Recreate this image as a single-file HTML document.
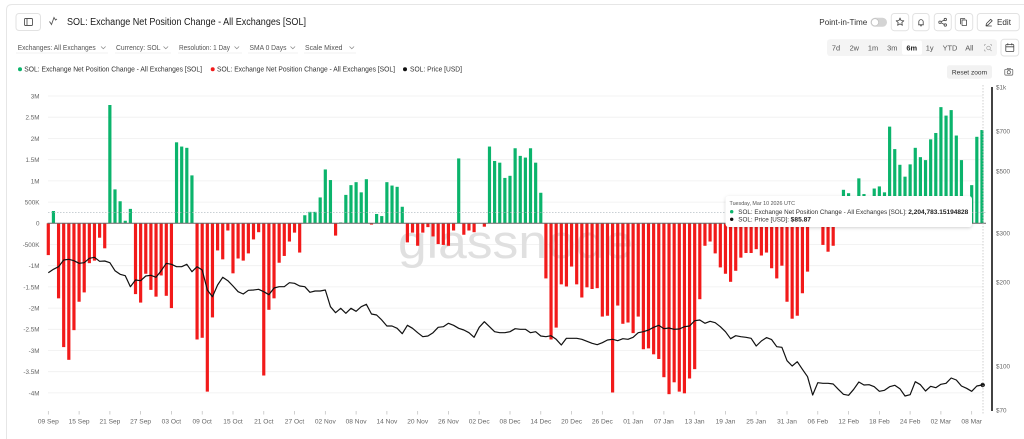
<!DOCTYPE html>
<html><head><meta charset="utf-8"><style>
html,body{margin:0;padding:0;background:#fff;}
svg{display:block;font-family:"Liberation Sans",Arial,sans-serif;}
</style></head><body>
<svg width="1024" height="439" viewBox="0 0 1024 439" xmlns="http://www.w3.org/2000/svg">
<defs>
<filter id="sh" x="-10%" y="-40%" width="120%" height="180%"><feDropShadow dx="0" dy="1" stdDeviation="1.5" flood-color="#000" flood-opacity="0.18"/></filter>
</defs>
<rect width="1024" height="439" fill="#fff"/>
<!-- card border -->
<path d="M6.5,439 V10 Q6.5,4.5 12,4.5 H1024" fill="none" stroke="#e6e6e6" stroke-width="1"/>

<!-- header left -->
<rect x="16" y="13.5" width="24.5" height="17" rx="3" fill="#fff" stroke="#e2e2e2"/>
<rect x="24.5" y="18.5" width="8" height="7" rx="1" fill="none" stroke="#555" stroke-width="0.9"/>
<line x1="27" y1="18.5" x2="27" y2="25.5" stroke="#555" stroke-width="0.9"/>
<polyline points="49.5,21.5 51.5,24.5 54,17.5 55.5,20 57,19" fill="none" stroke="#555" stroke-width="0.9"/>
<text x="67" y="25" font-size="10" fill="#1a1a1a" textLength="239" lengthAdjust="spacingAndGlyphs">SOL: Exchange Net Position Change - All Exchanges [SOL]</text>

<!-- filters -->
<g font-size="7.2" fill="#555">
<text x="17.7" y="50" textLength="78" lengthAdjust="spacingAndGlyphs">Exchanges: All Exchanges</text>
<text x="116" y="50" textLength="44.5" lengthAdjust="spacingAndGlyphs">Currency: SOL</text>
<text x="179" y="50" textLength="51" lengthAdjust="spacingAndGlyphs">Resolution: 1 Day</text>
<text x="249.5" y="50" textLength="37" lengthAdjust="spacingAndGlyphs">SMA 0 Days</text>
<text x="305" y="50" textLength="37.5" lengthAdjust="spacingAndGlyphs">Scale Mixed</text>
</g>
<g fill="none" stroke="#888" stroke-width="0.7">
<polyline points="101,46.5 103.3,48.8 105.6,46.5"/>
<polyline points="163.5,46.5 165.8,48.8 168.1,46.5"/>
<polyline points="234.5,46.5 236.8,48.8 239.1,46.5"/>
<polyline points="290.5,46.5 292.8,48.8 295.1,46.5"/>
<polyline points="349.5,46.5 351.8,48.8 354.1,46.5"/>
</g>
<g stroke="#ececec" stroke-width="0.8">
<line x1="16" y1="53" x2="108" y2="53"/>
<line x1="115" y1="53" x2="171" y2="53"/>
<line x1="178" y1="53" x2="242" y2="53"/>
<line x1="248" y1="53" x2="298" y2="53"/>
<line x1="304" y1="53" x2="356" y2="53"/>
</g>

<!-- legend -->
<circle cx="20" cy="69.3" r="2" fill="#0bb46c"/>
<circle cx="212.7" cy="69.3" r="2" fill="#f21a1a"/>
<circle cx="405" cy="69.3" r="2" fill="#111"/>
<g font-size="7" fill="#333">
<text x="24.3" y="71.7" textLength="177.7" lengthAdjust="spacingAndGlyphs">SOL: Exchange Net Position Change - All Exchanges [SOL]</text>
<text x="217" y="71.7" textLength="178" lengthAdjust="spacingAndGlyphs">SOL: Exchange Net Position Change - All Exchanges [SOL]</text>
<text x="410" y="71.7" textLength="52" lengthAdjust="spacingAndGlyphs">SOL: Price [USD]</text>
</g>

<!-- header right -->
<text x="819.3" y="25" font-size="8" fill="#333" textLength="48" lengthAdjust="spacingAndGlyphs">Point-in-Time</text>
<rect x="870.5" y="17.8" width="16.5" height="9" rx="4.5" fill="#d4d4d4"/>
<circle cx="875" cy="22.3" r="3.6" fill="#fff" stroke="#bbb" stroke-width="0.6"/>
<g fill="#fff" stroke="#e2e2e2">
<rect x="891.3" y="13.5" width="17.4" height="17.2" rx="3"/>
<rect x="912.7" y="13.5" width="16.4" height="17.2" rx="3"/>
<rect x="934.3" y="13.5" width="17" height="17.2" rx="3"/>
<rect x="955.3" y="13.5" width="17.4" height="17.2" rx="3"/>
<rect x="977.3" y="13.5" width="42" height="17.2" rx="3"/>
<rect x="1001" y="39.3" width="17.7" height="16.7" rx="3"/>
</g>
<g fill="none" stroke="#444" stroke-width="0.8" stroke-linejoin="round">
<polygon points="900,18 901.1,20.6 903.8,20.8 901.8,22.6 902.4,25.3 900,23.9 897.6,25.3 898.2,22.6 896.2,20.8 898.9,20.6"/>
<path d="M918.3,24.8 h5.4 M918.8,24.8 v-3 a2.2,2.2 0 0 1 4.4,0 v3 M920.2,25.8 h1.6"/>
<circle cx="940" cy="22.2" r="1.2"/><circle cx="945.3" cy="19.5" r="1.2"/><circle cx="945.3" cy="25" r="1.2"/>
<path d="M941.1,21.6 L944.2,20.1 M941.1,22.8 L944.2,24.4"/>
<rect x="962" y="20" width="4.6" height="5.6" rx="0.6"/>
<path d="M960.5,24.2 v-5.5 h4.6"/>
<path d="M986,25.5 l0.5,-2 l4.2,-4.2 l1.5,1.5 l-4.2,4.2 z M985.8,26 h6"/>
<rect x="1005.8" y="44.5" width="8" height="7" rx="0.8"/>
<path d="M1005.8,46.8 h8 M1007.8,43.3 v2 M1011.8,43.3 v2"/>
</g>
<text x="997" y="25.2" font-size="8" fill="#333" textLength="14" lengthAdjust="spacingAndGlyphs">Edit</text>

<!-- time range -->
<rect x="827" y="39.3" width="170" height="16.7" rx="3" fill="#f4f4f4"/>
<rect x="902" y="40.6" width="20" height="14.2" rx="2" fill="#fff"/>
<g font-size="7.4" fill="#555" text-anchor="middle">
<text x="836" y="50.5">7d</text>
<text x="854.3" y="50.5">2w</text>
<text x="873" y="50.5">1m</text>
<text x="892.3" y="50.5">3m</text>
<text x="911.7" y="50.5" font-weight="bold" fill="#222">6m</text>
<text x="929.7" y="50.5">1y</text>
<text x="950" y="50.5">YTD</text>
<text x="969.3" y="50.5">All</text>
</g>
<g fill="none" stroke="#999" stroke-width="0.6">
<path d="M984.5,44.5 h1.5 M984.5,44.5 v1.5 M991.5,44.5 h-1.5 M991.5,44.5 v1.5 M984.5,51 v-1.5 M984.5,51 h1.5"/>
<circle cx="988.5" cy="48" r="1.8"/><path d="M989.8,49.3 l1.8,1.8"/>
</g>

<!-- reset zoom -->
<rect x="947" y="65.3" width="45" height="13.4" rx="2.5" fill="#f2f2f2"/>
<text x="969.5" y="74.4" font-size="6.6" fill="#333" text-anchor="middle">Reset zoom</text>
<g fill="none" stroke="#555" stroke-width="0.7">
<rect x="1004.8" y="69.3" width="8" height="5.8" rx="0.8"/>
<circle cx="1008.8" cy="72.2" r="1.6"/>
<path d="M1006.8,69.3 l0.7,-1 h2.6 l0.7,1"/>
</g>

<!-- grid -->
<g stroke="#efefef" stroke-width="0.8">
<line x1="48" y1="96" x2="983" y2="96"/>
<line x1="48" y1="117.2" x2="983" y2="117.2"/>
<line x1="48" y1="138.5" x2="983" y2="138.5"/>
<line x1="48" y1="159.7" x2="983" y2="159.7"/>
<line x1="48" y1="180.9" x2="983" y2="180.9"/>
<line x1="48" y1="202.1" x2="983" y2="202.1"/>
<line x1="48" y1="244.5" x2="983" y2="244.5"/>
<line x1="48" y1="265.7" x2="983" y2="265.7"/>
<line x1="48" y1="286.9" x2="983" y2="286.9"/>
<line x1="48" y1="308.1" x2="983" y2="308.1"/>
<line x1="48" y1="329.3" x2="983" y2="329.3"/>
<line x1="48" y1="350.5" x2="983" y2="350.5"/>
<line x1="48" y1="371.7" x2="983" y2="371.7"/>
<line x1="48" y1="392.9" x2="983" y2="392.9"/>
</g>

<!-- left axis labels -->
<g font-size="6.3" fill="#666" text-anchor="end">
<text x="39.5" y="98.4">3M</text>
<text x="39.5" y="119.6">2.5M</text>
<text x="39.5" y="140.9">2M</text>
<text x="39.5" y="162.1">1.5M</text>
<text x="39.5" y="183.3">1M</text>
<text x="39.5" y="204.5">500K</text>
<text x="39.5" y="225.7">0</text>
<text x="39.5" y="246.9">-500K</text>
<text x="39.5" y="268.1">-1M</text>
<text x="39.5" y="289.3">-1.5M</text>
<text x="39.5" y="310.5">-2M</text>
<text x="39.5" y="331.7">-2.5M</text>
<text x="39.5" y="352.9">-3M</text>
<text x="39.5" y="374.1">-3.5M</text>
<text x="39.5" y="395.3">-4M</text>
</g>

<!-- watermark -->
<text x="398" y="258" font-size="47" fill="#e0e0e0" textLength="235" lengthAdjust="spacingAndGlyphs">glassnode</text>

<!-- bars -->
<g transform="translate(48.3 223.3) scale(5.13 -42.4)">
<g fill="#0bb46c">
<rect x="0.69" y="0" width=".62" height="0.29"/>
<rect x="11.69" y="0" width=".62" height="2.79"/>
<rect x="12.69" y="0" width=".62" height="0.80"/>
<rect x="13.69" y="0" width=".62" height="0.52"/>
<rect x="14.69" y="0" width=".62" height="0.06"/>
<rect x="15.69" y="0" width=".62" height="0.34"/>
<rect x="24.69" y="0" width=".62" height="1.91"/>
<rect x="25.69" y="0" width=".62" height="1.81"/>
<rect x="26.69" y="0" width=".62" height="1.78"/>
<rect x="27.69" y="0" width=".62" height="1.13"/>
<rect x="49.69" y="0" width=".62" height="0.19"/>
<rect x="50.69" y="0" width=".62" height="0.27"/>
<rect x="51.69" y="0" width=".62" height="0.27"/>
<rect x="52.69" y="0" width=".62" height="0.61"/>
<rect x="53.69" y="0" width=".62" height="1.27"/>
<rect x="54.69" y="0" width=".62" height="1.02"/>
<rect x="56.69" y="0" width=".62" height="0.02"/>
<rect x="57.69" y="0" width=".62" height="0.67"/>
<rect x="58.69" y="0" width=".62" height="0.90"/>
<rect x="59.69" y="0" width=".62" height="0.97"/>
<rect x="60.69" y="0" width=".62" height="0.73"/>
<rect x="61.69" y="0" width=".62" height="1.04"/>
<rect x="63.69" y="0" width=".62" height="0.22"/>
<rect x="64.69" y="0" width=".62" height="0.17"/>
<rect x="65.69" y="0" width=".62" height="0.97"/>
<rect x="66.69" y="0" width=".62" height="0.89"/>
<rect x="67.69" y="0" width=".62" height="0.86"/>
<rect x="68.69" y="0" width=".62" height="0.39"/>
<rect x="79.69" y="0" width=".62" height="1.53"/>
<rect x="85.69" y="0" width=".62" height="1.81"/>
<rect x="86.69" y="0" width=".62" height="1.47"/>
<rect x="87.69" y="0" width=".62" height="1.43"/>
<rect x="88.69" y="0" width=".62" height="1.07"/>
<rect x="89.69" y="0" width=".62" height="1.12"/>
<rect x="90.69" y="0" width=".62" height="1.77"/>
<rect x="91.69" y="0" width=".62" height="1.59"/>
<rect x="92.69" y="0" width=".62" height="1.55"/>
<rect x="93.69" y="0" width=".62" height="1.77"/>
<rect x="94.69" y="0" width=".62" height="1.43"/>
<rect x="95.69" y="0" width=".62" height="0.72"/>
<rect x="149.69" y="0" width=".62" height="0.05"/>
<rect x="153.69" y="0" width=".62" height="0.30"/>
<rect x="154.69" y="0" width=".62" height="0.79"/>
<rect x="155.69" y="0" width=".62" height="0.71"/>
<rect x="156.69" y="0" width=".62" height="0.40"/>
<rect x="157.69" y="0" width=".62" height="1.06"/>
<rect x="158.69" y="0" width=".62" height="0.69"/>
<rect x="159.69" y="0" width=".62" height="0.45"/>
<rect x="160.69" y="0" width=".62" height="0.82"/>
<rect x="161.69" y="0" width=".62" height="0.87"/>
<rect x="162.69" y="0" width=".62" height="0.73"/>
<rect x="163.69" y="0" width=".62" height="2.28"/>
<rect x="164.69" y="0" width=".62" height="1.75"/>
<rect x="165.69" y="0" width=".62" height="1.38"/>
<rect x="166.69" y="0" width=".62" height="1.10"/>
<rect x="167.69" y="0" width=".62" height="1.39"/>
<rect x="168.69" y="0" width=".62" height="1.78"/>
<rect x="169.69" y="0" width=".62" height="1.56"/>
<rect x="170.69" y="0" width=".62" height="1.49"/>
<rect x="171.69" y="0" width=".62" height="1.98"/>
<rect x="172.69" y="0" width=".62" height="2.13"/>
<rect x="173.69" y="0" width=".62" height="2.74"/>
<rect x="174.69" y="0" width=".62" height="2.54"/>
<rect x="175.69" y="0" width=".62" height="2.67"/>
<rect x="176.69" y="0" width=".62" height="2.07"/>
<rect x="177.69" y="0" width=".62" height="1.49"/>
<rect x="178.69" y="0" width=".62" height="0.30"/>
<rect x="179.69" y="0" width=".62" height="0.90"/>
<rect x="180.69" y="0" width=".62" height="2.04"/>
<rect x="181.69" y="0" width=".62" height="2.20"/>
</g>
<g fill="#f21a1a">
<rect x="-0.31" y="-0.75" width=".62" height="0.75"/>
<rect x="1.69" y="-1.77" width=".62" height="1.77"/>
<rect x="2.69" y="-2.92" width=".62" height="2.92"/>
<rect x="3.69" y="-3.22" width=".62" height="3.22"/>
<rect x="4.69" y="-2.52" width=".62" height="2.52"/>
<rect x="5.69" y="-1.85" width=".62" height="1.85"/>
<rect x="6.69" y="-1.63" width=".62" height="1.63"/>
<rect x="7.69" y="-0.94" width=".62" height="0.94"/>
<rect x="8.69" y="-0.88" width=".62" height="0.88"/>
<rect x="9.69" y="-0.34" width=".62" height="0.34"/>
<rect x="10.69" y="-0.59" width=".62" height="0.59"/>
<rect x="16.69" y="-1.67" width=".62" height="1.67"/>
<rect x="17.69" y="-1.87" width=".62" height="1.87"/>
<rect x="18.69" y="-1.19" width=".62" height="1.19"/>
<rect x="19.69" y="-1.57" width=".62" height="1.57"/>
<rect x="20.69" y="-1.73" width=".62" height="1.73"/>
<rect x="21.69" y="-1.23" width=".62" height="1.23"/>
<rect x="22.69" y="-1.71" width=".62" height="1.71"/>
<rect x="23.69" y="-2.00" width=".62" height="2.00"/>
<rect x="28.69" y="-2.74" width=".62" height="2.74"/>
<rect x="29.69" y="-2.70" width=".62" height="2.70"/>
<rect x="30.69" y="-3.97" width=".62" height="3.97"/>
<rect x="31.69" y="-2.22" width=".62" height="2.22"/>
<rect x="32.69" y="-0.64" width=".62" height="0.64"/>
<rect x="33.69" y="-0.85" width=".62" height="0.85"/>
<rect x="34.69" y="-0.17" width=".62" height="0.17"/>
<rect x="35.69" y="-1.18" width=".62" height="1.18"/>
<rect x="36.69" y="-0.83" width=".62" height="0.83"/>
<rect x="37.69" y="-0.88" width=".62" height="0.88"/>
<rect x="38.69" y="-0.71" width=".62" height="0.71"/>
<rect x="39.69" y="-0.38" width=".62" height="0.38"/>
<rect x="40.69" y="-0.21" width=".62" height="0.21"/>
<rect x="41.69" y="-3.59" width=".62" height="3.59"/>
<rect x="42.69" y="-2.04" width=".62" height="2.04"/>
<rect x="43.69" y="-1.77" width=".62" height="1.77"/>
<rect x="44.69" y="-0.93" width=".62" height="0.93"/>
<rect x="45.69" y="-0.77" width=".62" height="0.77"/>
<rect x="46.69" y="-0.43" width=".62" height="0.43"/>
<rect x="47.69" y="-0.22" width=".62" height="0.22"/>
<rect x="48.69" y="-0.69" width=".62" height="0.69"/>
<rect x="55.69" y="-0.29" width=".62" height="0.29"/>
<rect x="62.69" y="-0.03" width=".62" height="0.03"/>
<rect x="69.69" y="-0.45" width=".62" height="0.45"/>
<rect x="70.69" y="-0.22" width=".62" height="0.22"/>
<rect x="71.69" y="-0.53" width=".62" height="0.53"/>
<rect x="72.69" y="-0.22" width=".62" height="0.22"/>
<rect x="73.69" y="-0.09" width=".62" height="0.09"/>
<rect x="74.69" y="-0.31" width=".62" height="0.31"/>
<rect x="75.69" y="-0.49" width=".62" height="0.49"/>
<rect x="76.69" y="-0.51" width=".62" height="0.51"/>
<rect x="77.69" y="-0.53" width=".62" height="0.53"/>
<rect x="78.69" y="-0.17" width=".62" height="0.17"/>
<rect x="80.69" y="-0.27" width=".62" height="0.27"/>
<rect x="81.69" y="-0.17" width=".62" height="0.17"/>
<rect x="82.69" y="-0.21" width=".62" height="0.21"/>
<rect x="84.69" y="-0.08" width=".62" height="0.08"/>
<rect x="96.69" y="-1.30" width=".62" height="1.30"/>
<rect x="97.69" y="-2.74" width=".62" height="2.74"/>
<rect x="98.69" y="-2.46" width=".62" height="2.46"/>
<rect x="99.69" y="-1.44" width=".62" height="1.44"/>
<rect x="100.69" y="-1.49" width=".62" height="1.49"/>
<rect x="101.69" y="-1.02" width=".62" height="1.02"/>
<rect x="102.69" y="-1.44" width=".62" height="1.44"/>
<rect x="103.69" y="-1.75" width=".62" height="1.75"/>
<rect x="104.69" y="-1.51" width=".62" height="1.51"/>
<rect x="105.69" y="-1.55" width=".62" height="1.55"/>
<rect x="106.69" y="-1.53" width=".62" height="1.53"/>
<rect x="107.69" y="-2.20" width=".62" height="2.20"/>
<rect x="108.69" y="-2.18" width=".62" height="2.18"/>
<rect x="109.69" y="-3.99" width=".62" height="3.99"/>
<rect x="110.69" y="-1.94" width=".62" height="1.94"/>
<rect x="111.69" y="-2.37" width=".62" height="2.37"/>
<rect x="112.69" y="-2.34" width=".62" height="2.34"/>
<rect x="113.69" y="-2.59" width=".62" height="2.59"/>
<rect x="114.69" y="-2.20" width=".62" height="2.20"/>
<rect x="115.69" y="-2.97" width=".62" height="2.97"/>
<rect x="116.69" y="-2.95" width=".62" height="2.95"/>
<rect x="117.69" y="-3.09" width=".62" height="3.09"/>
<rect x="118.69" y="-3.20" width=".62" height="3.20"/>
<rect x="119.69" y="-3.63" width=".62" height="3.63"/>
<rect x="120.69" y="-4.03" width=".62" height="4.03"/>
<rect x="121.69" y="-3.75" width=".62" height="3.75"/>
<rect x="122.69" y="-3.97" width=".62" height="3.97"/>
<rect x="123.69" y="-4.01" width=".62" height="4.01"/>
<rect x="124.69" y="-3.66" width=".62" height="3.66"/>
<rect x="125.69" y="-3.44" width=".62" height="3.44"/>
<rect x="126.69" y="-1.79" width=".62" height="1.79"/>
<rect x="127.69" y="-0.53" width=".62" height="0.53"/>
<rect x="128.69" y="-0.43" width=".62" height="0.43"/>
<rect x="129.69" y="-0.71" width=".62" height="0.71"/>
<rect x="130.69" y="-1.04" width=".62" height="1.04"/>
<rect x="131.69" y="-1.19" width=".62" height="1.19"/>
<rect x="132.69" y="-1.38" width=".62" height="1.38"/>
<rect x="133.69" y="-1.12" width=".62" height="1.12"/>
<rect x="134.69" y="-0.81" width=".62" height="0.81"/>
<rect x="135.69" y="-0.70" width=".62" height="0.70"/>
<rect x="136.69" y="-0.70" width=".62" height="0.70"/>
<rect x="137.69" y="-0.61" width=".62" height="0.61"/>
<rect x="138.69" y="-0.76" width=".62" height="0.76"/>
<rect x="139.69" y="-0.69" width=".62" height="0.69"/>
<rect x="140.69" y="-1.06" width=".62" height="1.06"/>
<rect x="141.69" y="-1.30" width=".62" height="1.30"/>
<rect x="142.69" y="-1.00" width=".62" height="1.00"/>
<rect x="143.69" y="-1.85" width=".62" height="1.85"/>
<rect x="144.69" y="-2.25" width=".62" height="2.25"/>
<rect x="145.69" y="-2.18" width=".62" height="2.18"/>
<rect x="146.69" y="-1.65" width=".62" height="1.65"/>
<rect x="147.69" y="-1.14" width=".62" height="1.14"/>
<rect x="148.69" y="-0.05" width=".62" height="0.05"/>
<rect x="150.69" y="-0.51" width=".62" height="0.51"/>
<rect x="151.69" y="-0.67" width=".62" height="0.67"/>
<rect x="152.69" y="-0.53" width=".62" height="0.53"/>
</g>
</g>

<!-- zero line -->
<line x1="47.5" y1="223.3" x2="986" y2="223.3" stroke="#666" stroke-width="1"/>
<!-- horizontal crosshair -->
<line x1="48" y1="212.3" x2="987" y2="212.3" stroke="#a9b3bb" stroke-width="0.7" stroke-dasharray="1.5 1.5"/>

<!-- price line -->
<g transform="translate(48.3 0) scale(5.13 1)">
<polyline fill="none" stroke="#111" stroke-width="1.2" stroke-linejoin="round" vector-effect="non-scaling-stroke" points="0,272.7 1,269.3 2,266.7 3,260 4,259.3 5,260.7 6,263.3 7,262.7 8,258.3 9,257.3 10,261.3 11,261 12,262.7 13,270.7 14,274.3 15,275.7 16,286.7 17,280 18,280.7 19,276 20,275.3 21,277.3 22,270.7 23,263.3 24,264.3 25,266.7 26,266.7 27,264.3 28,271.7 29,266.7 30,270 31,290 32,296.7 33,285 34,277.3 35,280.7 36,286 37,291.7 38,294 39,290.3 40,290 41,289.3 42,291.7 43,294.7 44,288 45,286.7 46,286.7 47,282.7 48,283.3 49,286 50,286.7 51,292.3 52,291 53,291 54,290 55,306.7 56,312.7 57,308.3 58,313.3 59,308.3 60,311.3 61,306.7 62,304.3 63,314 64,315 65,320 66,326 67,326 68,328.3 69,333.7 70,325.3 71,328.3 72,332.7 73,336.7 74,336 75,332.7 76,327.3 77,326.7 78,323.3 79,325.3 80,328.3 81,330 82,332.7 83,337.3 84,327.3 85,321.7 86,326.7 87,331.7 88,332.7 89,332.7 90,331.7 91,328.7 92,329.3 93,329.3 94,332.7 95,331.7 96,336 97,336.7 98,335.7 99,339.3 100,345 101,338.3 102,338.3 103,338.3 104,339.3 105,341.3 106,343.3 107,344.7 108,342.7 109,340 110,339.3 111,340.7 112,338.7 113,339.3 114,337.3 115,332.7 116,331.7 117,330 118,327.3 119,325.3 120,328.7 121,328 122,329.3 123,329 124,326.7 125,326 126,320.7 127,320 128,323.3 129,321.3 130,322.7 131,326.7 132,331.7 133,338.7 134,335.7 135,336.7 136,337.3 137,338.3 138,346 139,341 140,337.6 141,339.6 142,346.7 143,347.3 144,360.7 145,366 146,361.7 147,369.3 148,376.7 149,395 150,382.7 151,383.3 152,383.3 153,384 154,389.3 155,394.3 156,395.3 157,389.3 158,382 159,385 160,384.7 161,386.7 162,391.3 163,390.3 164,386.7 165,385.3 166,388.7 167,396 168,394.7 169,381.7 170,384.7 171,391 172,386.3 173,387.7 174,384.3 175,383.3 176,378 177,380 178,386 179,388.3 180,391.3 181,386 182,385"/>
</g>
<circle cx="982.7" cy="385" r="2.2" fill="#111"/>

<!-- vertical crosshair -->
<line x1="983" y1="85" x2="983" y2="415" stroke="#bbb" stroke-width="0.7" stroke-dasharray="1.5 1.5"/>

<!-- right axis -->
<line x1="992" y1="87" x2="992" y2="411" stroke="#222" stroke-width="1.7"/>
<g font-size="6.3" fill="#666">
<text x="996" y="89.4">$1k</text>
<text x="996" y="133.4">$700</text>
<text x="996" y="173.4">$500</text>
<text x="996" y="235.4">$300</text>
<text x="996" y="284.4">$200</text>
<text x="996" y="368.4">$100</text>
<text x="996" y="412.4">$70</text>
</g>

<!-- x ticks -->
<g stroke="#bbb" stroke-width="0.7">
<line x1="48.3" y1="411" x2="48.3" y2="414.5"/><line x1="79.1" y1="411" x2="79.1" y2="414.5"/><line x1="109.9" y1="411" x2="109.9" y2="414.5"/><line x1="140.6" y1="411" x2="140.6" y2="414.5"/><line x1="171.4" y1="411" x2="171.4" y2="414.5"/><line x1="202.2" y1="411" x2="202.2" y2="414.5"/><line x1="233" y1="411" x2="233" y2="414.5"/><line x1="263.8" y1="411" x2="263.8" y2="414.5"/><line x1="294.5" y1="411" x2="294.5" y2="414.5"/><line x1="325.3" y1="411" x2="325.3" y2="414.5"/><line x1="356.1" y1="411" x2="356.1" y2="414.5"/><line x1="386.9" y1="411" x2="386.9" y2="414.5"/><line x1="417.7" y1="411" x2="417.7" y2="414.5"/><line x1="448.4" y1="411" x2="448.4" y2="414.5"/><line x1="479.2" y1="411" x2="479.2" y2="414.5"/><line x1="510" y1="411" x2="510" y2="414.5"/><line x1="540.8" y1="411" x2="540.8" y2="414.5"/><line x1="571.6" y1="411" x2="571.6" y2="414.5"/><line x1="602.3" y1="411" x2="602.3" y2="414.5"/><line x1="633.1" y1="411" x2="633.1" y2="414.5"/><line x1="663.9" y1="411" x2="663.9" y2="414.5"/><line x1="694.7" y1="411" x2="694.7" y2="414.5"/><line x1="725.5" y1="411" x2="725.5" y2="414.5"/><line x1="756.2" y1="411" x2="756.2" y2="414.5"/><line x1="787" y1="411" x2="787" y2="414.5"/><line x1="817.8" y1="411" x2="817.8" y2="414.5"/><line x1="848.6" y1="411" x2="848.6" y2="414.5"/><line x1="879.4" y1="411" x2="879.4" y2="414.5"/><line x1="910.1" y1="411" x2="910.1" y2="414.5"/><line x1="940.9" y1="411" x2="940.9" y2="414.5"/><line x1="971.7" y1="411" x2="971.7" y2="414.5"/>
</g>
<g font-size="6.6" fill="#666" text-anchor="middle">
<text x="48.3" y="423.5">09 Sep</text><text x="79.1" y="423.5">15 Sep</text><text x="109.9" y="423.5">21 Sep</text><text x="140.6" y="423.5">27 Sep</text><text x="171.4" y="423.5">03 Oct</text><text x="202.2" y="423.5">09 Oct</text><text x="233" y="423.5">15 Oct</text><text x="263.8" y="423.5">21 Oct</text><text x="294.5" y="423.5">27 Oct</text><text x="325.3" y="423.5">02 Nov</text><text x="356.1" y="423.5">08 Nov</text><text x="386.9" y="423.5">14 Nov</text><text x="417.7" y="423.5">20 Nov</text><text x="448.4" y="423.5">26 Nov</text><text x="479.2" y="423.5">02 Dec</text><text x="510" y="423.5">08 Dec</text><text x="540.8" y="423.5">14 Dec</text><text x="571.6" y="423.5">20 Dec</text><text x="602.3" y="423.5">26 Dec</text><text x="633.1" y="423.5">01 Jan</text><text x="663.9" y="423.5">07 Jan</text><text x="694.7" y="423.5">13 Jan</text><text x="725.5" y="423.5">19 Jan</text><text x="756.2" y="423.5">25 Jan</text><text x="787" y="423.5">31 Jan</text><text x="817.8" y="423.5">06 Feb</text><text x="848.6" y="423.5">12 Feb</text><text x="879.4" y="423.5">18 Feb</text><text x="910.1" y="423.5">24 Feb</text><text x="940.9" y="423.5">02 Mar</text><text x="971.7" y="423.5">08 Mar</text>
</g>

<!-- tooltip -->
<rect x="725.5" y="196" width="246.5" height="31" rx="3" fill="#fff" filter="url(#sh)"/>
<text x="729.5" y="205.2" font-size="5.6" fill="#555" textLength="65.5" lengthAdjust="spacingAndGlyphs">Tuesday, Mar 10 2026 UTC</text>
<circle cx="731.7" cy="211.7" r="1.7" fill="#0bb46c"/>
<circle cx="731.7" cy="219.3" r="1.7" fill="#111"/>
<g font-size="6.2" fill="#333">
<text x="738.3" y="213.9" textLength="168.4" lengthAdjust="spacingAndGlyphs">SOL: Exchange Net Position Change - All Exchanges [SOL]:</text>
<text x="908.3" y="213.9" font-weight="bold" fill="#222" textLength="60" lengthAdjust="spacingAndGlyphs">2,204,783.15194828</text>
<text x="738.3" y="221.5" textLength="50.7" lengthAdjust="spacingAndGlyphs">SOL: Price [USD]:</text>
<text x="790.7" y="221.5" font-weight="bold" fill="#222" textLength="20.3" lengthAdjust="spacingAndGlyphs">$85.87</text>
</g>
</svg>
</body></html>
